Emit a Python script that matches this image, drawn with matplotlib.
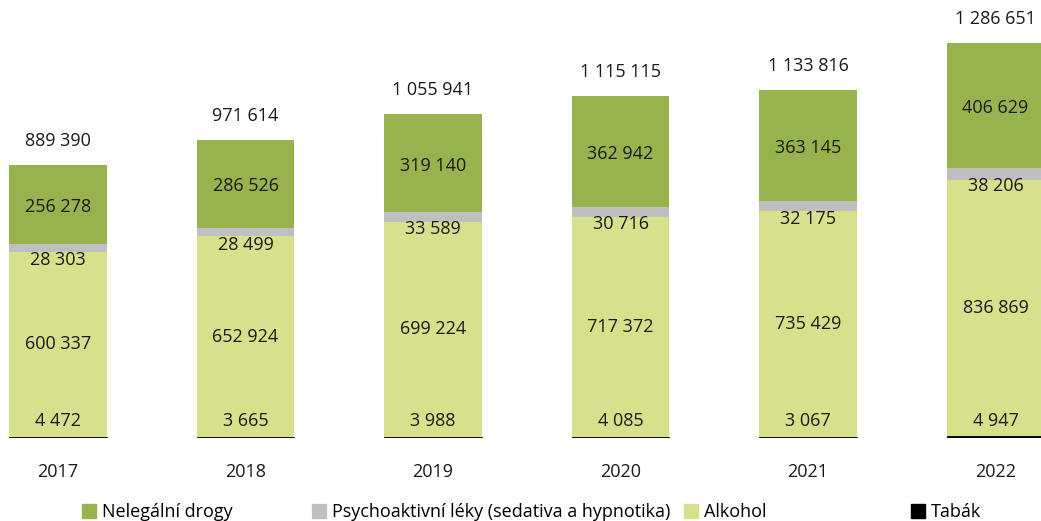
import matplotlib.pyplot as plt
from matplotlib.patches import Patch
import numpy as np

plt.rcParams['font.family'] = ['Open Sans', 'DejaVu Sans']

# data
years = ['2017', '2018', '2019', '2020', '2021', '2022']
tabak = [4472, 3665, 3988, 4085, 3067, 4947]
alkohol = [600337, 652924, 699224, 717372, 735429, 836869]
leky = [28303, 28499, 33589, 30716, 32175, 38206]
drogy = [256278, 286526, 319140, 362942, 363145, 406629]
totals = [889390, 971614, 1055941, 1115115, 1133816, 1286651]

c_drogy = '#97B34D'
c_leky = '#BFBFBF'
c_alk = '#D8E08C'
c_tab = '#000000'

def fmt(v):
    return f"{v:,}".replace(",", " ")

fig = plt.figure(figsize=(10.41, 5.21), dpi=100)
ax = fig.add_axes([0, 83 / 521, 1, 438 / 521])

x = np.arange(len(years))
w = 0.52
b1 = np.array(tabak)
b2 = b1 + np.array(alkohol)
b3 = b2 + np.array(leky)

ax.bar(x, tabak, w, color=c_tab, edgecolor=c_tab, linewidth=0.6)
ax.bar(x, alkohol, w, bottom=b1, color=c_alk)
ax.bar(x, leky, w, bottom=b2, color=c_leky)
ax.bar(x, drogy, w, bottom=b3, color=c_drogy)

fs = 13
tc = '#1a1a1a'
for i in range(len(years)):
    # tabak label near the bottom
    ax.annotate(fmt(tabak[i]), (x[i], 0), xytext=(0, 12), textcoords='offset points',
                ha='center', va='center', fontsize=fs, color=tc)
    ax.text(x[i], b1[i] + alkohol[i] / 2, fmt(alkohol[i]), ha='center', va='center',
            fontsize=fs, color=tc)
    ax.annotate(fmt(leky[i]), (x[i], b2[i] + leky[i] / 2), xytext=(0, -9),
                textcoords='offset points', ha='center', va='center', fontsize=fs,
                color=tc)
    ax.annotate(fmt(drogy[i]), (x[i], b3[i] + drogy[i] / 2), xytext=(0, -2),
                textcoords='offset points', ha='center', va='center', fontsize=fs,
                color=tc)
    ax.annotate(fmt(totals[i]), (x[i], totals[i]), xytext=(0, 17),
                textcoords='offset points', ha='center', va='center', fontsize=fs,
                color=tc)

ax.set_xlim(-58 / 187.5, (1041 - 58) / 187.5)
ax.set_ylim(0, 1426700)
ax.set_xticks(x)
ax.set_xticklabels(years, fontsize=fs, color=tc)
ax.tick_params(axis='x', length=0, pad=18)
ax.set_yticks([])
for s in ax.spines.values():
    s.set_visible(False)

# legend, one entry at a time so the gaps match
entries = [('Nelegální drogy', c_drogy, 82),
           ('Psychoaktivní léky (sedativa a hypnotika)', c_leky, 312),
           ('Alkohol', c_alk, 684),
           ('Tabák', c_tab, 911)]
for lab, col, px in entries:
    fig.legend(handles=[Patch(color=col)], labels=[lab], loc='center left',
               bbox_to_anchor=(px / 1041, 9 / 521), frameon=False, fontsize=fs,
               handlelength=0.8, handleheight=0.8, handletextpad=0.3,
               borderaxespad=0, borderpad=0)

fig.savefig('out.png', dpi=100)
